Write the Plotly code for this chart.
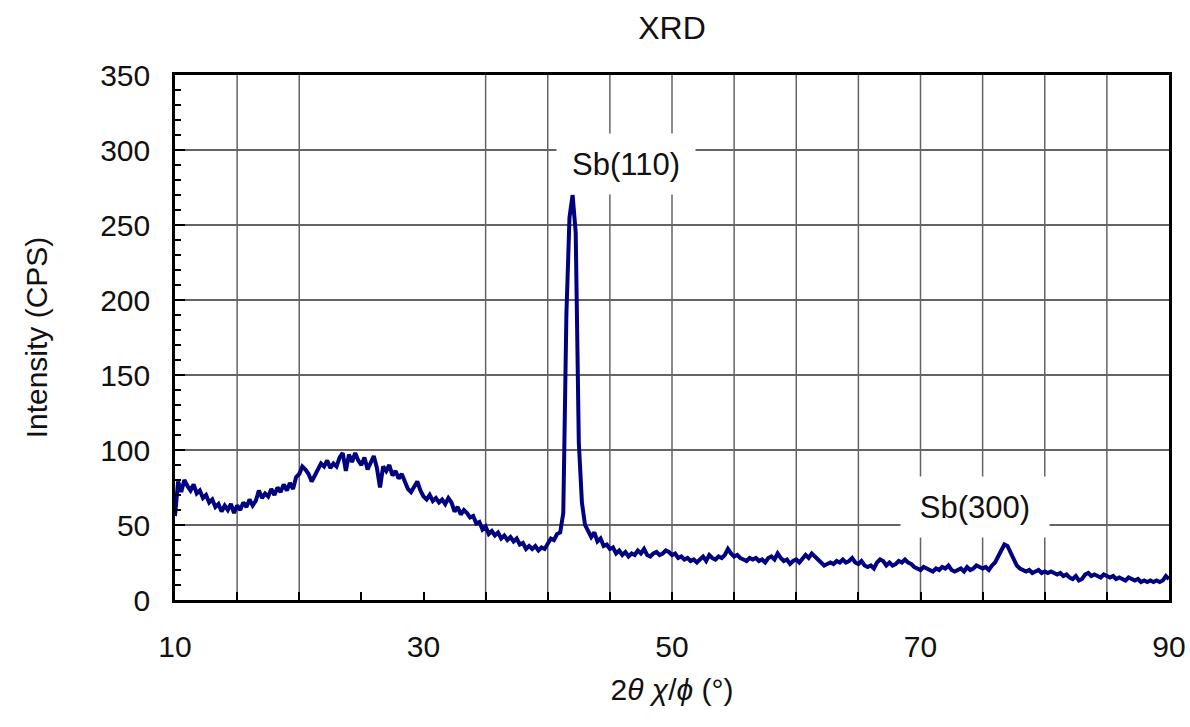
import plotly.graph_objects as go

# ---- data ----
scan_start = 10.0      # 2theta of first point
scan_step = 0.25       # 2theta step between points
intensity = [
    56, 79, 72, 80,   # 10
    76, 73, 77, 71,   # 11
    73, 68, 70, 65,   # 12
    67, 62, 64, 59,   # 13
    63, 60, 64, 58,   # 14
    63, 60, 65, 62,   # 15
    67, 63, 66, 73,   # 16
    68, 71, 69, 74,   # 17
    70, 75, 72, 77,   # 18
    73, 78, 74, 82,   # 19
    84, 89, 87, 84,   # 20
    79, 83, 86, 91,   # 21
    89, 93, 88, 91,   # 22
    89, 95, 98, 86,   # 23
    97, 92, 98, 93,   # 24
    90, 95, 87, 91,   # 25
    96, 88, 75, 89,   # 26
    86, 90, 83, 86,   # 27
    81, 84, 78, 74,   # 28
    72, 76, 79, 73,   # 29
    69, 67, 70, 66,   # 30
    68, 65, 67, 64,   # 31
    68, 65, 59, 62,   # 32
    57, 60, 58, 55,   # 33
    56, 51, 52, 47,   # 34
    49, 44, 46, 43,   # 35
    45, 41, 43, 40,   # 36
    42, 39, 41, 37,   # 37
    38, 34, 36, 34,   # 38
    36, 33, 35, 34,   # 39
    37, 41, 40, 44,   # 40
    45, 58, 190, 255,  # 41
    270, 245, 105, 65,  # 42
    50, 46, 42, 45,   # 43
    39, 41, 36, 37,   # 44
    34, 35, 31, 33,   # 45
    30, 32, 29, 31,   # 46
    30, 33, 31, 34,   # 47
    30, 29, 31, 32,   # 48
    30, 31, 33, 32,   # 49
    30, 31, 28, 29,   # 50
    27, 28, 26, 27,   # 51
    25, 27, 29, 26,   # 52
    30, 28, 27, 29,   # 53
    28, 30, 34, 31,   # 54
    29, 30, 28, 27,   # 55
    26, 28, 27, 28,   # 56
    26, 27, 25, 28,   # 57
    29, 27, 31, 28,   # 58
    26, 27, 24, 26,   # 59
    27, 25, 28, 30,   # 60
    28, 31, 29, 27,   # 61
    25, 23, 24, 25,   # 62
    24, 26, 25, 27,   # 63
    25, 26, 28, 25,   # 64
    24, 26, 23, 22,   # 65
    23, 21, 25, 27,   # 66
    26, 23, 25, 23,   # 67
    24, 26, 25, 27,   # 68
    25, 24, 22, 21,   # 69
    20, 22, 21, 20,   # 70
    19, 21, 20, 22,   # 71
    21, 23, 20, 19,   # 72
    20, 21, 19, 22,   # 73
    20, 21, 23, 22,   # 74
    21, 22, 20, 23,   # 75
    25, 29, 33, 37,   # 76
    36, 32, 27, 23,   # 77
    21, 20, 19, 20,   # 78
    18, 19, 20, 18,   # 79
    19, 18, 19, 18,   # 80
    17, 18, 16, 17,   # 81
    15, 14, 16, 13,   # 82
    14, 17, 18, 16,   # 83
    17, 16, 15, 17,   # 84
    16, 15, 16, 14,   # 85
    15, 14, 13, 15,   # 86
    14, 13, 14, 12,   # 87
    13, 12, 13, 12,   # 88
    13, 12, 13, 16,   # 89
    14,               # 90
]
two_theta = [scan_start + scan_step * i for i in range(len(intensity))]

x_tick_vals = [10, 30, 50, 70, 90]
x_tick_text = ["10", "30", "50", "70", "90"]
y_tick_vals = [0, 50, 100, 150, 200, 250, 300, 350]
x_grid_vals = [15, 20, 35, 40, 45, 50, 55, 60, 65, 70, 75, 80, 85]

peak_labels = ["Sb(110)", "Sb(300)"]
peak_label_x = [46.3, 74.4]
peak_label_y = [291, 62]
peak_box_w = [136, 146]

FONT = "Arial, Liberation Sans, sans-serif"
GRID = "rgb(100,100,100)"

fig = go.Figure()
fig.add_trace(go.Scatter(
    x=two_theta, y=intensity, mode="lines",
    line=dict(color="rgb(0,0,128)", width=4),
    showlegend=False,
))

for gx in x_grid_vals:
    fig.add_shape(type="line", xref="x", yref="paper", x0=gx, x1=gx, y0=0, y1=1,
                  line=dict(color=GRID, width=1.5), layer="below")

for txt, lx, ly, bw in zip(peak_labels, peak_label_x, peak_label_y, peak_box_w):
    fig.add_annotation(x=lx, y=ly, xref="x", yref="y", text=txt, showarrow=False,
                       font=dict(family=FONT, size=31, color="#111"),
                       bgcolor="white", width=bw, height=58,
                       xanchor="center", yanchor="middle")

fig.update_layout(
    width=1190, height=727,
    margin=dict(l=175, r=21, t=75, b=127),
    paper_bgcolor="white", plot_bgcolor="white",
    font=dict(family=FONT, size=30, color="#111"),
    title=dict(text="XRD", x=0.5, xref="paper", xanchor="center",
               y=1 - 28 / 727, yref="container", yanchor="middle",
               font=dict(family=FONT, size=32, color="#111")),
)

fig.update_xaxes(
    range=[10, 90], tickmode="array", tickvals=x_tick_vals, ticktext=x_tick_text,
    ticks="inside", ticklen=8, tickwidth=2, tickcolor="black",
    minor=dict(dtick=5, tick0=10, ticks="inside", ticklen=8, tickwidth=1.5,
               tickcolor="black", showgrid=False),
    showgrid=False, zeroline=False, automargin=False,
    showline=True, linecolor="black", linewidth=2.5, mirror=True,
    ticklabelstandoff=18,
    tickfont=dict(family=FONT, size=30, color="#111"),
    title=dict(text="2<i>θ</i> <i>χ</i>/<i>ϕ</i> (°)", standoff=18,
               font=dict(family=FONT, size=30, color="#111")),
)
fig.update_yaxes(
    range=[0, 350], tickmode="array", tickvals=y_tick_vals,
    ticks="inside", ticklen=10, tickwidth=2, tickcolor="black",
    minor=dict(dtick=10, tick0=0, ticks="inside", ticklen=6, tickwidth=1.5,
               tickcolor="black", showgrid=False),
    showgrid=True, gridcolor=GRID, gridwidth=1.5, zeroline=False, automargin=False,
    showline=True, linecolor="black", linewidth=2.5, mirror=True,
    ticklabelstandoff=16,
    tickfont=dict(family=FONT, size=30, color="#111"),
    title=dict(text="Intensity (CPS)", standoff=44,
               font=dict(family=FONT, size=30, color="#111")),
)

fig.write_html("out.html")
